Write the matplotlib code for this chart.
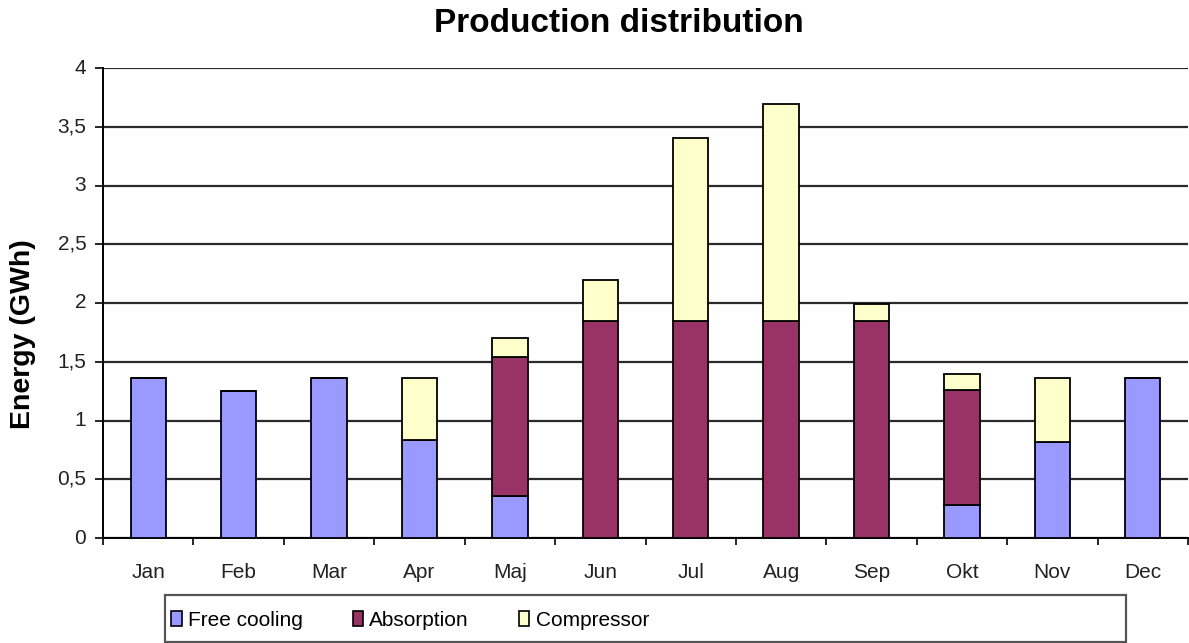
import matplotlib
matplotlib.use("Agg")
import matplotlib.pyplot as plt
from matplotlib.patches import Rectangle, Patch
import numpy as np

months = ["Jan", "Feb", "Mar", "Apr", "Maj", "Jun", "Jul", "Aug", "Sep", "Okt", "Nov", "Dec"]
free_cooling = [1.36, 1.25, 1.36, 0.83, 0.36, 0.0, 0.0, 0.0, 0.0, 0.28, 0.82, 1.36]
absorption = [0.0, 0.0, 0.0, 0.0, 1.18, 1.85, 1.85, 1.85, 1.85, 0.98, 0.0, 0.0]
compressor = [0.0, 0.0, 0.0, 0.53, 0.16, 0.35, 1.55, 1.84, 0.14, 0.14, 0.54, 0.0]
series_names = ["Free cooling", "Absorption", "Compressor"]
colors = ["#9999FF", "#993366", "#FFFFCC"]
yticks = [0, 0.5, 1, 1.5, 2, 2.5, 3, 3.5, 4]
ytick_labels = ["0", "0,5", "1", "1,5", "2", "2,5", "3", "3,5", "4"]

plt.rcParams['font.family'] = ['Liberation Sans', 'DejaVu Sans']

fig = plt.figure(figsize=(11.89, 6.43), dpi=100)
ax = fig.add_axes([103/1189, 1 - 538/643, (1188 - 103)/1189, (538 - 68)/643])

x = np.arange(len(months))
w = 0.39
b1 = np.array(free_cooling)
b2 = b1 + np.array(absorption)
ax.bar(x, free_cooling, w, color=colors[0], edgecolor="black", linewidth=1.3, zorder=3)
ax.bar(x, absorption, w, bottom=b1, color=colors[1], edgecolor="black", linewidth=1.3, zorder=3)
ax.bar(x, compressor, w, bottom=b2, color=colors[2], edgecolor="black", linewidth=1.3, zorder=3)

ax.set_xlim(-0.5, len(months) - 0.5)
ax.set_ylim(0, 4)
ax.set_yticks(yticks)
ax.set_yticklabels(ytick_labels)
ax.set_xticks(x)
ax.set_xticklabels(months)
ax.set_xticks(np.arange(len(months) + 1) - 0.5, minor=True)
ax.tick_params(axis='x', which='major', length=0, pad=25, labelsize=15, labelcolor="#222222")
ax.tick_params(axis='x', which='minor', length=5, width=1.2, direction='out')
ax.tick_params(axis='y', length=6, width=1.2, direction='out', labelsize=15, labelcolor="#222222", pad=6)
for lab in ax.get_xticklabels():
    lab.set_va("center")
for lab in ax.get_yticklabels():
    lab.set_va("center")

ax.yaxis.grid(True, color="#2a2a2a", linewidth=1.6, zorder=0)
ax.set_axisbelow(True)
for s in ["top", "right"]:
    ax.spines[s].set_visible(False)
ax.spines["left"].set_linewidth(1.4)
ax.spines["bottom"].set_linewidth(1.4)

ax.set_ylabel("Energy (GWh)", fontsize=20.5, fontweight="bold")
ax.yaxis.set_label_coords(-(103 - 36)/1085, (538 - 334)/470)
fig.text(619/1189, 1 - 23/643, "Production distribution", ha="center", va="center",
         fontsize=24, fontweight="bold")

# legend box
fig.patches.append(Rectangle((165/1189, 1 - 642/643), (1126 - 165)/1189, (642 - 595)/643,
                             transform=fig.transFigure, facecolor="white",
                             edgecolor="#555555", linewidth=1.6))
handles = [Patch(facecolor=c, edgecolor="black", linewidth=1.2) for c in colors]
fig.legend(handles, series_names, loc="center left", bbox_to_anchor=(167/1189, 1 - 620/643),
           ncol=3, frameon=False, fontsize=15,
           handlelength=0.5, handleheight=0.7,
           handletextpad=0.3, columnspacing=2.4, borderaxespad=0, borderpad=0.2)

fig.savefig("out.png", dpi=100)
